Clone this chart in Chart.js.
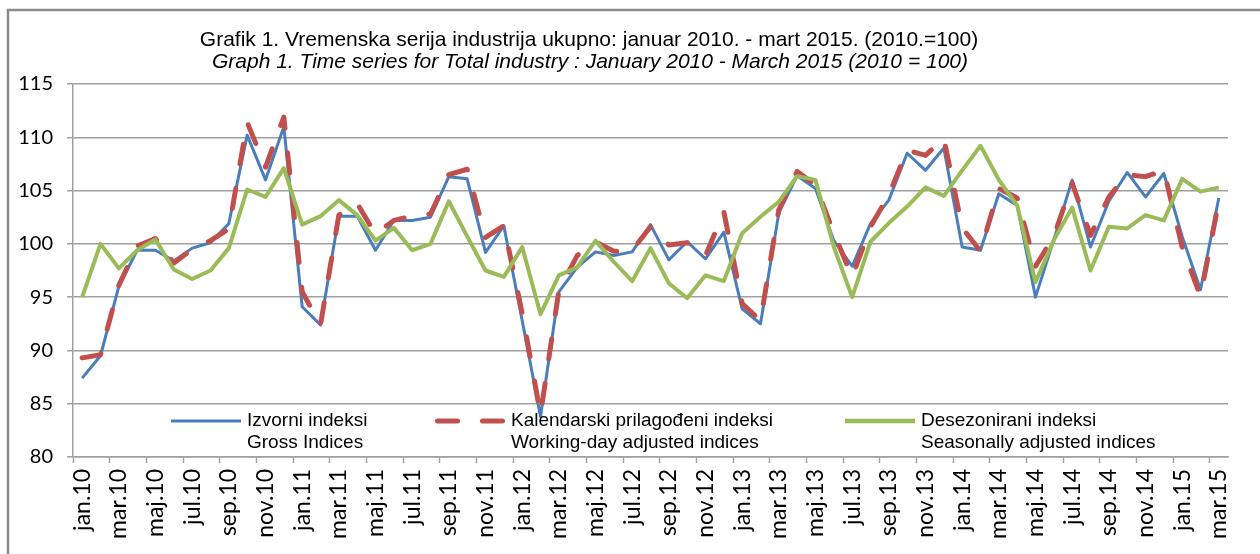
<!DOCTYPE html>
<html>
<head>
<meta charset="utf-8">
<script src="https://cdn.jsdelivr.net/npm/chart.js@4.4.1/dist/chart.umd.min.js"></script>
<style>
    html, body { margin: 0; padding: 0; background: #fff; }
    #graph { display: block; }
</style>
</head>
<body>
<canvas id="graph" width="1260" height="554"></canvas>
<script>
// month names (Serbian) and years -> category labels jan.10 ... mar.15
const monthNames = ['jan', 'feb', 'mar', 'apr', 'maj', 'jun', 'jul', 'avg', 'sep', 'okt', 'nov', 'dec'];
const years = ['10', '11', '12', '13', '14', '15'];
const categories = [];
years.forEach((y) => monthNames.forEach((m) => categories.push(`${m}.${y}`)));
categories.length = 63;

const yTicks = [80, 85, 90, 95, 100, 105, 110, 115];

const titleLines = [
    'Grafik 1. Vremenska serija industrija ukupno: januar 2010. - mart 2015. (2010.=100)',
    'Graph 1. Time series for Total industry : January 2010 - March 2015 (2010 = 100)'
];
const seriesNames = [
    ['Izvorni indeksi', 'Gross Indices'],
    ['Kalendarski prilagođeni indeksi', 'Working-day adjusted indices'],
    ['Desezonirani indeksi', 'Seasonally adjusted indices']
];

const grossIndices = [
    87.4, 89.5, 96.0, 99.4, 99.4, 98.4, 99.6, 100.1, 101.9, 110.2, 106.0, 111.0,
    94.1, 92.4, 102.6, 102.6, 99.4, 102.2, 102.2, 102.5, 106.3, 106.1, 99.2, 101.7,
    92.8, 83.8, 95.5, 97.8, 99.25, 98.9, 99.25, 101.8, 98.5, 100.2, 98.6, 101.1,
    93.9, 92.5, 102.9, 106.4, 105.2, 100.3, 97.9, 101.9, 104.1, 108.5, 106.9, 109.0,
    99.7, 99.4, 104.7, 103.6, 95.0, 100.4, 106.0, 99.7, 104.0, 106.7, 104.4, 106.6,
    100.7, 95.7, 104.3
];
const workingDayIndices = [
    89.3, 89.6, 96.1, 99.8, 100.5, 98.2, 99.5, 100.3, 101.4, 111.4, 107.2, 111.9,
    95.5, 92.4, 102.7, 103.8, 100.9, 102.2, 102.6, 102.8, 106.5, 107.0, 100.6, 101.7,
    93.5, 84.0, 95.6, 98.9, 100.2, 99.3, 99.4, 101.6, 99.9, 100.1, 98.9, 103.0,
    94.4, 92.8, 103.2, 106.8, 105.5, 101.0, 96.9, 101.6, 104.6, 108.8, 108.3, 109.9,
    101.5, 99.3, 105.2, 104.3, 97.9, 100.7, 105.7, 100.8, 104.4, 106.5, 106.3, 106.9,
    99.7, 95.1, 104.0
];
const seasonalIndices = [
    95.0, 100.0, 97.7, 99.4, 100.4, 97.6, 96.7, 97.5, 99.6, 105.1, 104.4, 107.1,
    101.8, 102.6, 104.1, 102.7, 100.3, 101.5, 99.4, 100.0, 104.0, 100.7, 97.5, 96.9,
    99.7, 93.4, 97.05, 97.8, 100.3, 98.3, 96.5, 99.6, 96.3, 94.9, 97.05, 96.5,
    101.0, 102.55, 103.95, 106.35, 106.0, 99.7, 95.0, 100.2, 101.95, 103.5, 105.3, 104.5,
    106.9, 109.2, 106.0, 103.6, 96.4, 100.35, 103.4, 97.5, 101.6, 101.45, 102.7, 102.2,
    106.1, 104.9, 105.3
];

const BLUE = '#4a7ebb';
const RED = '#c0504d';
const GREEN = '#9bbb59';
const GRID = '#a0a0a0';
const TEXT_FONT = '"Liberation Sans", Arial, sans-serif';
const TICK_FONT = 'Lato, "Liberation Sans", sans-serif';

// white page, outer frame, title and the two-line legend
const decorations = {
    id: 'decorations',
    beforeDraw(chart) {
        const ctx = chart.ctx;
        ctx.save();
        ctx.fillStyle = '#fff';
        ctx.fillRect(0, 0, chart.width, chart.height);
        ctx.strokeStyle = '#8a8a8a';
        ctx.lineWidth = 2.5;
        ctx.strokeRect(8, 10, chart.width + 20, chart.height + 20);
        ctx.restore();
    },
    afterDraw(chart) {
        const ctx = chart.ctx;
        const area = chart.chartArea;
        ctx.save();
        ctx.fillStyle = '#000';
        ctx.textAlign = 'center';
        ctx.textBaseline = 'middle';
        ctx.font = `21px ${TEXT_FONT}`;
        ctx.fillText(titleLines[0], 589, 40);
        ctx.font = `italic 21px ${TEXT_FONT}`;
        ctx.fillText(titleLines[1], 590, 62);

        const legendY = area.bottom - 36;
        const entries = [
            { x: 171, color: BLUE, width: 3, dash: [] },
            { x: 435, color: RED, width: 5, dash: [20, 25] },
            { x: 845, color: GREEN, width: 4.5, dash: [] }
        ];
        entries.forEach((e, i) => {
            ctx.beginPath();
            ctx.strokeStyle = e.color;
            ctx.lineWidth = e.width;
            ctx.lineCap = e.dash.length ? 'round' : 'butt';
            ctx.setLineDash(e.dash);
            const start = e.dash.length ? e.x + 2.5 : e.x;
            ctx.moveTo(start, legendY);
            ctx.lineTo(e.x + 70, legendY);
            ctx.stroke();
            ctx.setLineDash([]);
            ctx.font = `19px ${TEXT_FONT}`;
            ctx.textAlign = 'left';
            ctx.fillStyle = '#000';
            ctx.fillText(seriesNames[i][0], e.x + 76, legendY);
            ctx.fillText(seriesNames[i][1], e.x + 76, legendY + 22);
        });
        ctx.restore();
    }
};

function lineSet(label, data, color, width, dash, order) {
    return {
        label: label,
        data: data,
        borderColor: color,
        backgroundColor: color,
        borderWidth: width,
        borderDash: dash,
        borderCapStyle: dash.length ? 'round' : 'butt',
        borderJoinStyle: 'round',
        pointRadius: 0,
        tension: 0,
        fill: false,
        order: order
    };
}

const ctx = document.getElementById('graph');
new Chart(ctx, {
    type: 'line',
    data: {
        labels: categories,
        datasets: [
            lineSet(seriesNames[0][0], grossIndices, BLUE, 3, [], 3),
            lineSet(seriesNames[1][0], workingDayIndices, RED, 5, [20, 25], 2),
            lineSet(seriesNames[2][0], seasonalIndices, GREEN, 4, [], 1)
        ]
    },
    options: {
        responsive: false,
        animation: false,
        devicePixelRatio: 1,
        layout: { padding: { top: 84, left: 0, right: 32, bottom: 0 } },
        plugins: {
            legend: { display: false },
            title: { display: false },
            tooltip: { enabled: false }
        },
        scales: {
            x: {
                offset: true,
                afterFit: (scale) => { scale.height = 97; },
                grid: {
                    offset: true,
                    drawOnChartArea: false,
                    drawTicks: true,
                    tickLength: 6,
                    tickColor: (c) => (c.index % 2 === 0 ? GRID : 'rgba(0,0,0,0)'),
                    tickWidth: 1.5
                },
                border: { display: true, color: GRID, width: 1.5 },
                ticks: {
                    autoSkip: false,
                    maxRotation: 90,
                    minRotation: 90,
                    padding: 6,
                    color: '#000',
                    font: { family: TICK_FONT, size: 23 },
                    callback: (value, index) => (index % 2 === 0 ? categories[index] : '')
                }
            },
            y: {
                min: yTicks[0],
                max: yTicks[yTicks.length - 1],
                afterFit: (scale) => { scale.width = 73; },
                afterBuildTicks: (scale) => { scale.ticks = yTicks.map((v) => ({ value: v })); },
                grid: {
                    color: GRID,
                    lineWidth: 1.5,
                    drawTicks: true,
                    tickLength: 6
                },
                border: { display: true, color: GRID, width: 1.5 },
                ticks: {
                    padding: 14,
                    color: '#000',
                    font: { family: TICK_FONT, size: 20 }
                }
            }
        }
    },
    plugins: [decorations]
});
</script>
</body>
</html>
